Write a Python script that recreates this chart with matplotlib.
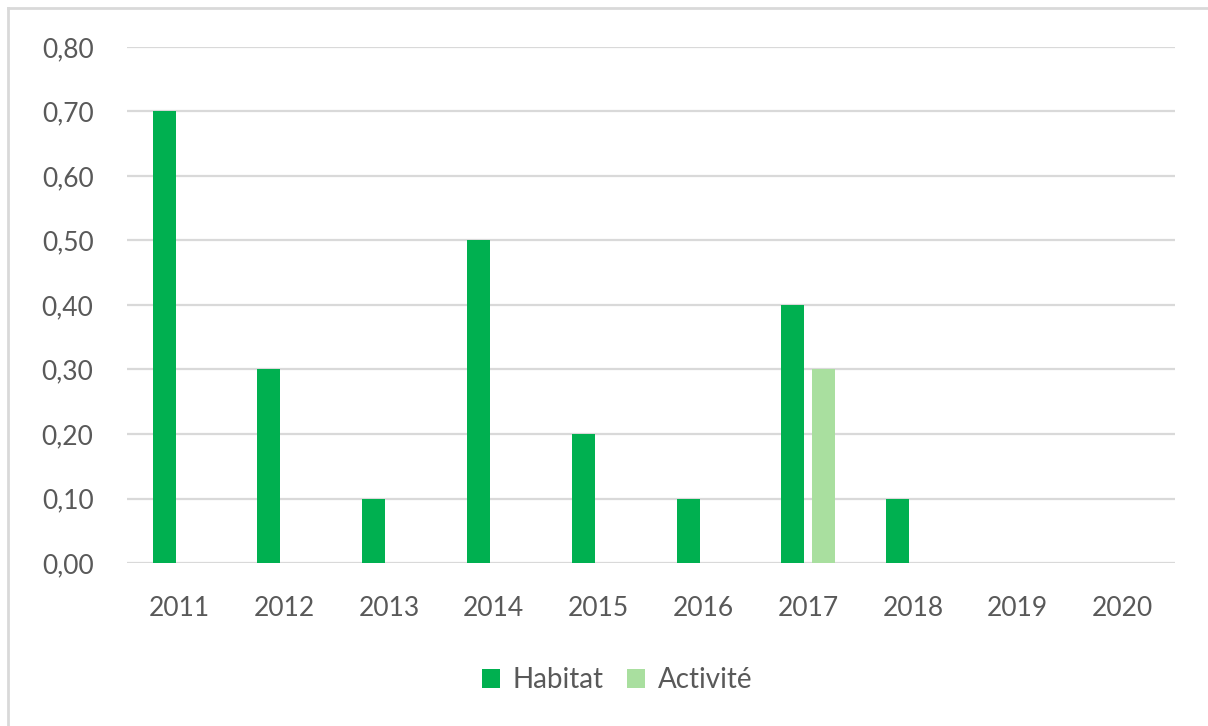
import matplotlib
matplotlib.use("Agg")
import matplotlib.pyplot as plt
import numpy as np
from matplotlib.patches import Patch
from matplotlib.lines import Line2D

years = ["2011", "2012", "2013", "2014", "2015", "2016", "2017", "2018", "2019", "2020"]
habitat = [0.70, 0.30, 0.10, 0.50, 0.20, 0.10, 0.40, 0.10, 0.0, 0.0]
activite = [0.0, 0.0, 0.0, 0.0, 0.0, 0.0, 0.30, 0.0, 0.0, 0.0]
yticks = [0.0, 0.1, 0.2, 0.3, 0.4, 0.5, 0.6, 0.7, 0.8]

c_hab = "#00b050"
c_act = "#a9df9f"
txt = "#595959"

plt.rcParams['font.family'] = ['Lato', 'DejaVu Sans']

fig = plt.figure(figsize=(12.08, 7.26), dpi=100)
ax = fig.add_axes([0.105, 0.2245, 0.8677, 0.7108])

x = np.arange(len(years))
w = 0.22
ax.bar(x - 0.145, habitat, width=w, color=c_hab, label="Habitat", zorder=3)
ax.bar(x + 0.145, activite, width=w, color=c_act, label="Activité", zorder=3)

ax.set_xlim(-0.5, len(years) - 0.5)
ax.set_ylim(0, 0.8)
ax.set_yticks(yticks)
ax.set_yticklabels([f"{v:.2f}".replace(".", ",") for v in yticks])
ax.set_xticks(x)
ax.set_xticklabels(years)
ax.tick_params(axis='both', length=0, labelsize=19, colors=txt)
ax.tick_params(axis='y', pad=24)
ax.tick_params(axis='x', pad=24)
ax.yaxis.grid(True, color="#d9d9d9", linewidth=1.6, zorder=0)
ax.set_axisbelow(True)
for s in ax.spines.values():
    s.set_visible(False)

handles = [Patch(facecolor=c_hab, label="Habitat"), Patch(facecolor=c_act, label="Activité")]
fig.legend(handles=handles, loc="center", bbox_to_anchor=(0.511, 0.063), ncol=2, frameon=False,
           fontsize=20, labelcolor=txt, handlelength=0.65, handleheight=0.65,
           handletextpad=0.45, columnspacing=0.85)

# figure border (left and top visible)
fig.add_artist(Line2D([8/1208, 8/1208], [0, 1 - 8/726], transform=fig.transFigure, color="#d9d9d9", linewidth=2))
fig.add_artist(Line2D([8/1208, 1], [1 - 8/726, 1 - 8/726], transform=fig.transFigure, color="#d9d9d9", linewidth=2))

fig.savefig("out.png", dpi=100, facecolor="white")
